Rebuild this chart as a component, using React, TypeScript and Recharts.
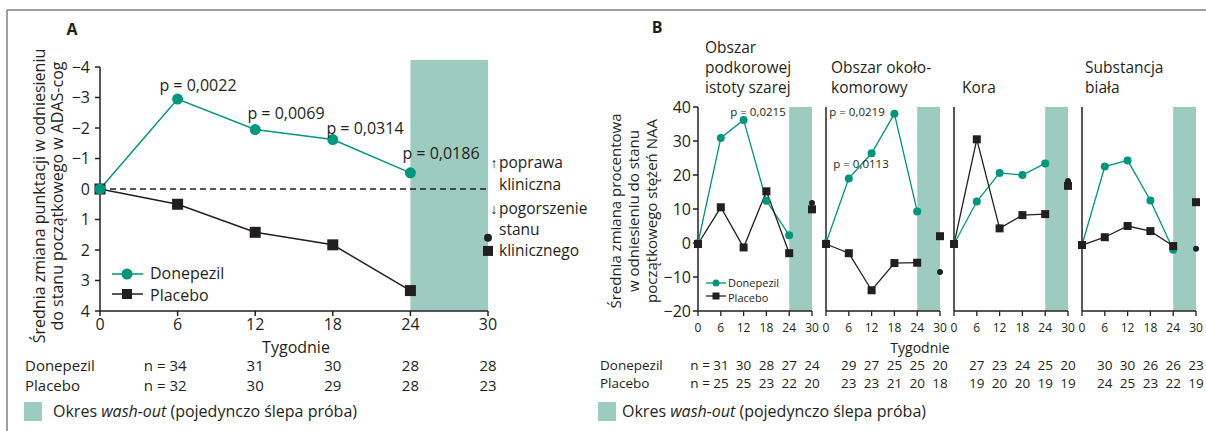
import React from 'react';
import { LineChart, Line, XAxis, YAxis, ReferenceArea, ReferenceLine } from 'recharts';

const FONT = '"Open Sans", sans-serif';
const INK = '#231f20';
const TEAL = '#00967d';
const WASH = '#9ecbc0';
const FRAME = '#808080';

// ---------- shared ----------
const weekTicks = [0, 6, 12, 18, 24, 30];
const treatWeeks = [0, 6, 12, 18, 24];
const washoutWeek = 30;
const nWeeks = [6, 12, 18, 24, 30];

// ---------- Panel A (ADAS-cog) ----------
const adasDonepezil = [0, -2.95, -1.95, -1.62, -0.53];
const adasPlacebo = [0, 0.5, 1.42, 1.83, 3.33];
const adasWashoutDonepezil = 1.6;
const adasWashoutPlacebo = 2.03;
const adasTicks = [-4, -3, -2, -1, 0, 1, 2, 3, 4];
const adasPValues = ['p = 0,0022', 'p = 0,0069', 'p = 0,0314', 'p = 0,0186'];
const adasNDonepezil = [34, 31, 30, 28, 28];
const adasNPlacebo = [32, 30, 29, 28, 23];

// ---------- Panel B (NAA) ----------
const regionTitles = [
  ['Obszar', 'podkorowej', 'istoty szarej'],
  ['Obszar około-', 'komorowy'],
  ['Kora'],
  ['Substancja', 'biała'],
];
const naaDonepezil = [
  [0, 30.9, 36.2, 12.4, 2.3],
  [0, 19.0, 26.4, 38.0, 9.3],
  [-0.3, 12.2, 20.6, 20.0, 23.4],
  [-0.6, 22.5, 24.3, 12.5, -2.0],
];
const naaPlacebo = [
  [-0.3, 10.5, -1.3, 15.2, -3.0],
  [-0.3, -3.0, -13.9, -5.9, -5.8],
  [-0.3, 30.5, 4.3, 8.2, 8.5],
  [-0.6, 1.7, 5.0, 3.5, -0.9],
];
const naaWashoutDonepezil = [11.8, -8.5, 18.2, -1.7];
const naaWashoutPlacebo = [9.9, 2.0, 16.8, 12.0];
const naaTicks = [-20, -10, 0, 10, 20, 30, 40];
const naaNDonepezil = [
  [31, 30, 28, 27, 24],
  [29, 27, 25, 25, 20],
  [27, 23, 24, 25, 20],
  [30, 30, 26, 26, 23],
];
const naaNPlacebo = [
  [25, 25, 23, 22, 20],
  [23, 23, 21, 20, 18],
  [19, 20, 20, 19, 19],
  [24, 25, 23, 22, 19],
];
const naaPValues = ['p = 0,0215', 'p = 0,0219', 'p = 0,0113'];

// ---------- helpers ----------
function buildRows(don: number[], plac: number[], don30: number, plac30: number) {
  return weekTicks.map((w) => {
    const i = treatWeeks.indexOf(w);
    return {
      week: w,
      don: i >= 0 ? don[i] : null,
      plac: i >= 0 ? plac[i] : null,
      don30: w === washoutWeek ? don30 : null,
      plac30: w === washoutWeek ? plac30 : null,
    };
  });
}

const ok = (p: any) => Number.isFinite(p.cx) && Number.isFinite(p.cy) && p.value != null;

const circleDot = (r: number, fill: string) => (p: any) =>
  ok(p) ? <circle key={`c${p.index}`} cx={p.cx} cy={p.cy} r={r} fill={fill} /> : <g key={`c${p.index}`} />;

const squareDot = (s: number, fill: string) => (p: any) =>
  ok(p) ? (
    <rect key={`s${p.index}`} x={p.cx - s / 2} y={p.cy - s / 2} width={s} height={s} fill={fill} />
  ) : (
    <g key={`s${p.index}`} />
  );

const minus = (v: number) => (v < 0 ? '\u2212' + Math.abs(v) : String(v));

// ---------- Panel A chart ----------
const rowsA = buildRows(adasDonepezil, adasPlacebo, adasWashoutDonepezil, adasWashoutPlacebo);

function PanelA() {
  return (
    <div style={{ position: 'absolute', left: 0, top: 0 }}>
      <LineChart width={600} height={345} data={rowsA} margin={{ top: 67, right: 112, bottom: 0, left: 60 }}>
        <ReferenceArea x1={24} x2={30} y1={-4.23} y2={4} fill={WASH} fillOpacity={1} stroke="none" ifOverflow="visible" />
        <ReferenceLine y={0} stroke={INK} strokeWidth={1.3} strokeDasharray="6 4" />
        <XAxis
          type="number"
          dataKey="week"
          domain={[0, 30]}
          ticks={weekTicks}
          height={34}
          axisLine={{ stroke: INK, strokeWidth: 1.5 }}
          tickLine={{ stroke: INK, strokeWidth: 1.5 }}
          tickSize={5}
          tickMargin={3}
          tick={{ fill: INK, fontSize: 16, fontFamily: FONT }}
        />
        <YAxis
          type="number"
          domain={[-4, 4]}
          reversed
          ticks={adasTicks}
          width={40}
          axisLine={{ stroke: INK, strokeWidth: 1.5 }}
          tickLine={{ stroke: INK, strokeWidth: 1.5 }}
          tickSize={5}
          tickMargin={5}
          tickFormatter={minus}
          tick={{ fill: INK, fontSize: 16, fontFamily: FONT }}
        />
        <Line dataKey="plac" stroke={INK} strokeWidth={1.5} dot={squareDot(11, INK)} isAnimationActive={false} />
        <Line dataKey="don" stroke={TEAL} strokeWidth={1.5} dot={circleDot(5.5, TEAL)} isAnimationActive={false} />
        <Line dataKey="don30" stroke="none" dot={circleDot(4, INK)} isAnimationActive={false} />
        <Line dataKey="plac30" stroke="none" dot={squareDot(10, INK)} isAnimationActive={false} />
      </LineChart>
    </div>
  );
}

// ---------- Panel B charts ----------
const subAxisX = [698, 826, 954, 1082];
const SUB_W = 114;

function SubPanel({ idx }: { idx: number }) {
  const rows = buildRows(naaDonepezil[idx], naaPlacebo[idx], naaWashoutDonepezil[idx], naaWashoutPlacebo[idx]);
  const first = idx === 0;
  return (
    <div style={{ position: 'absolute', left: subAxisX[idx] - 45, top: 97 }}>
      <LineChart width={45 + SUB_W + 10} height={248} data={rows} margin={{ top: 10, right: 10, bottom: 0, left: 0 }}>
        <ReferenceArea x1={24} x2={30} fill={WASH} fillOpacity={1} stroke="none" />
        <XAxis
          type="number"
          dataKey="week"
          domain={[0, 30]}
          ticks={weekTicks}
          height={34}
          axisLine={{ stroke: INK, strokeWidth: 1.5 }}
          tickLine={{ stroke: INK, strokeWidth: 1.3 }}
          tickSize={5}
          tickMargin={7}
          tick={{ fill: INK, fontSize: 12, fontFamily: FONT }}
        />
        <YAxis
          type="number"
          domain={[-20, 40]}
          ticks={naaTicks}
          width={45}
          axisLine={{ stroke: INK, strokeWidth: 1.5 }}
          tickLine={first ? { stroke: INK, strokeWidth: 1.5 } : false}
          tick={first ? { fill: INK, fontSize: 16, fontFamily: FONT } : false}
          tickSize={5}
          tickMargin={2}
          tickFormatter={minus}
        />
        <Line dataKey="don" stroke={TEAL} strokeWidth={1.3} dot={circleDot(4, TEAL)} isAnimationActive={false} />
        <Line dataKey="plac" stroke={INK} strokeWidth={1.3} dot={squareDot(8, INK)} isAnimationActive={false} />
        <Line dataKey="don30" stroke="none" dot={circleDot(3, INK)} isAnimationActive={false} />
        <Line dataKey="plac30" stroke="none" dot={squareDot(8, INK)} isAnimationActive={false} />
      </LineChart>
    </div>
  );
}

// ---------- overlay text ----------
const xA = (w: number) => 100 + (w * 388) / 30;
const xB = (i: number, w: number) => subAxisX[i] + (w * SUB_W) / 30;

function Overlay() {
  const t = { fontFamily: FONT, fill: INK } as const;
  return (
    <svg width={1206} height={431} style={{ position: 'absolute', left: 0, top: 0, pointerEvents: 'none' }}>
      {/* frame */}
      <line x1={7} y1={10} x2={1206} y2={10} stroke={FRAME} strokeWidth={1.5} />
      <line x1={7} y1={10} x2={7} y2={431} stroke={FRAME} strokeWidth={1.5} />

      {/* ---- Panel A ---- */}
      <text x={72} y={29} {...t} fontSize={16} fontWeight="bold" textAnchor="middle" dominantBaseline="central">A</text>
      <g transform="translate(39,196) rotate(-90)">
        <text x={0} y={0} {...t} fontSize={16} textAnchor="middle" dominantBaseline="central">Średnia zmiana punktacji w odniesieniu</text>
      </g>
      <g transform="translate(57,196) rotate(-90)">
        <text x={0} y={0} {...t} fontSize={16} textAnchor="middle" dominantBaseline="central">do stanu początkowego w ADAS-cog</text>
      </g>
      {[ [198, 85], [286, 113], [365, 128], [441, 153] ].map(([x, y], i) => (
        <text key={`pa${i}`} x={x} y={y} {...t} fontSize={16} textAnchor="middle" dominantBaseline="central">{adasPValues[i]}</text>
      ))}
      <text x={494} y={162} {...t} fontSize={14} textAnchor="middle" dominantBaseline="central">↑</text>
      <text x={499} y={162} {...t} fontSize={15.5} dominantBaseline="central">poprawa</text>
      <text x={499} y={184} {...t} fontSize={15.5} dominantBaseline="central">kliniczna</text>
      <text x={494} y={208} {...t} fontSize={14} textAnchor="middle" dominantBaseline="central">↓</text>
      <text x={499} y={208} {...t} fontSize={15.5} dominantBaseline="central">pogorszenie</text>
      <text x={499} y={229} {...t} fontSize={15.5} dominantBaseline="central">stanu</text>
      <text x={499} y={250} {...t} fontSize={15.5} dominantBaseline="central">klinicznego</text>

      {/* legend A */}
      <line x1={112} y1={274} x2={143} y2={274} stroke={TEAL} strokeWidth={1.5} />
      <circle cx={127} cy={274} r={5.5} fill={TEAL} />
      <text x={150} y={273} {...t} fontSize={16} dominantBaseline="central">Donepezil</text>
      <line x1={112} y1={294} x2={143} y2={294} stroke={INK} strokeWidth={1.5} />
      <rect x={122} y={289} width={10} height={10} fill={INK} />
      <text x={150} y={295} {...t} fontSize={16} dominantBaseline="central">Placebo</text>

      {/* table A */}
      <text x={296} y={347} {...t} fontSize={16} textAnchor="middle" dominantBaseline="central">Tygodnie</text>
      <text x={25} y={365} {...t} fontSize={15} dominantBaseline="central">Donepezil</text>
      <text x={25} y={385} {...t} fontSize={15} dominantBaseline="central">Placebo</text>
      {nWeeks.map((w, i) => (
        <text key={`nad${i}`} x={i === 0 ? xA(w) + 9 : xA(w)} y={365} {...t} fontSize={15} textAnchor={i === 0 ? 'end' : 'middle'} dominantBaseline="central">
          {i === 0 ? `n = ${adasNDonepezil[i]}` : adasNDonepezil[i]}
        </text>
      ))}
      {nWeeks.map((w, i) => (
        <text key={`nap${i}`} x={i === 0 ? xA(w) + 9 : xA(w)} y={385} {...t} fontSize={15} textAnchor={i === 0 ? 'end' : 'middle'} dominantBaseline="central">
          {i === 0 ? `n = ${adasNPlacebo[i]}` : adasNPlacebo[i]}
        </text>
      ))}
      <rect x={24} y={402} width={18} height={19} fill={WASH} />
      <text x={53} y={411} {...t} fontSize={16} dominantBaseline="central">
        Okres <tspan fontStyle="italic">wash-out</tspan> (pojedynczo ślepa próba)
      </text>

      {/* ---- Panel B ---- */}
      <text x={657} y={27} {...t} fontSize={16} fontWeight="bold" textAnchor="middle" dominantBaseline="central">B</text>
      {regionTitles.map((lines, i) => {
        const lefts = [705, 831, 962, 1085];
        return lines.map((ln, j) => (
          <text key={`rt${i}-${j}`} x={lefts[i]} y={87 - (lines.length - 1 - j) * 20} {...t} fontSize={15.5} dominantBaseline="central">{ln}</text>
        ));
      })}
      {['Średnia zmiana procentowa', 'w odniesieniu do stanu', 'początkowego stężeń NAA'].map((ln, j) => (
        <g key={`byl${j}`} transform={`translate(${615 + j * 18},211) rotate(-90)`}>
          <text x={0} y={0} {...t} fontSize={15} textAnchor="middle" dominantBaseline="central">{ln}</text>
        </g>
      ))}
      {[ [758, 111], [857, 111], [861, 163] ].map(([x, y], i) => (
        <text key={`pb${i}`} x={x} y={y} {...t} fontSize={11.5} textAnchor="middle" dominantBaseline="central">{naaPValues[i]}</text>
      ))}
      {/* legend B */}
      <line x1={706} y1={283} x2={726} y2={283} stroke={TEAL} strokeWidth={1.3} />
      <circle cx={716} cy={283} r={3.5} fill={TEAL} />
      <text x={728} y={282} {...t} fontSize={11} dominantBaseline="central">Donepezil</text>
      <line x1={706} y1={296} x2={726} y2={296} stroke={INK} strokeWidth={1.3} />
      <rect x={712.5} y={292.5} width={7} height={7} fill={INK} />
      <text x={728} y={297} {...t} fontSize={11} dominantBaseline="central">Placebo</text>

      {/* table B */}
      <text x={920} y={347} {...t} fontSize={14} textAnchor="middle" dominantBaseline="central">Tygodnie</text>
      <text x={600} y={365} {...t} fontSize={13.5} dominantBaseline="central">Donepezil</text>
      <text x={600} y={383} {...t} fontSize={13.5} dominantBaseline="central">Placebo</text>
      {naaNDonepezil.map((row, i) =>
        row.map((n, k) => (
          <text key={`nbd${i}-${k}`} x={i === 0 && k === 0 ? xB(i, nWeeks[k]) + 8 : xB(i, nWeeks[k])} y={365} {...t} fontSize={13.5}
            textAnchor={i === 0 && k === 0 ? 'end' : 'middle'} dominantBaseline="central">
            {i === 0 && k === 0 ? `n = ${n}` : n}
          </text>
        ))
      )}
      {naaNPlacebo.map((row, i) =>
        row.map((n, k) => (
          <text key={`nbp${i}-${k}`} x={i === 0 && k === 0 ? xB(i, nWeeks[k]) + 8 : xB(i, nWeeks[k])} y={383} {...t} fontSize={13.5}
            textAnchor={i === 0 && k === 0 ? 'end' : 'middle'} dominantBaseline="central">
            {i === 0 && k === 0 ? `n = ${n}` : n}
          </text>
        ))
      )}
      <rect x={598} y={402} width={18} height={19} fill={WASH} />
      <text x={622} y={411} {...t} fontSize={16} dominantBaseline="central">
        Okres <tspan fontStyle="italic">wash-out</tspan> (pojedynczo ślepa próba)
      </text>
    </svg>
  );
}

export default function App() {
  return (
    <div style={{ position: 'absolute', left: 0, top: 0, width: 1206, height: 431, overflow: 'hidden', background: '#fff', fontFamily: FONT }}>
      <PanelA />
      {[0, 1, 2, 3].map((i) => (
        <SubPanel key={i} idx={i} />
      ))}
      <Overlay />
    </div>
  );
}
